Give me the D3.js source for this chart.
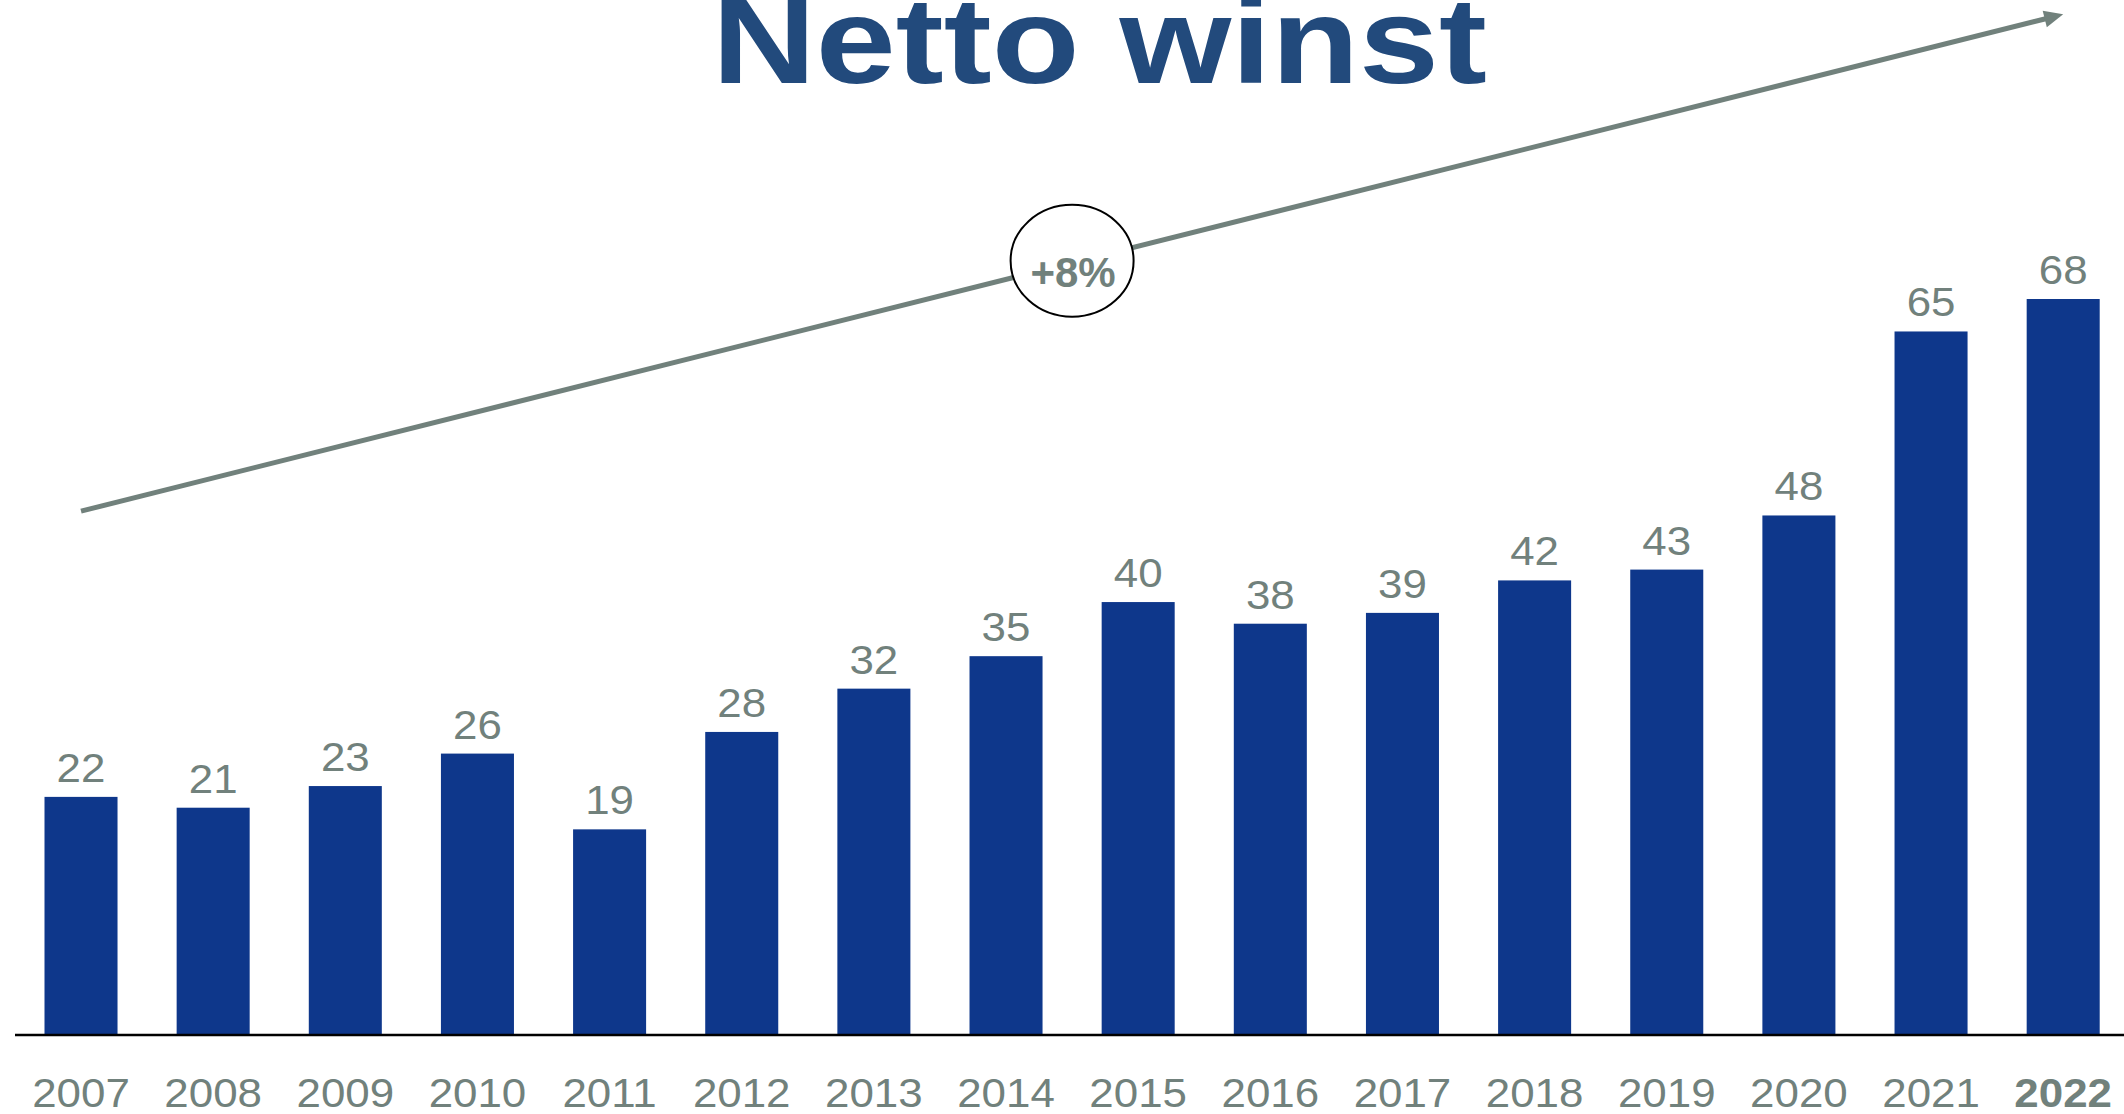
<!DOCTYPE html>
<html>
<head>
<meta charset="utf-8">
<script src="https://cdn.jsdelivr.net/npm/d3@7"></script>
<style>
  html, body { margin: 0; padding: 0; background: #ffffff; }
  svg { display: block; }
  text { font-family: "Liberation Sans", Arial, sans-serif; }
</style>
</head>
<body>
<script>
// Net profit per year
const years = ["2007","2008","2009","2010","2011","2012","2013","2014","2015","2016","2017","2018","2019","2020","2021","2022"];
const profit = [22, 21, 23, 26, 19, 28, 32, 35, 40, 38, 39, 42, 43, 48, 65, 68];
const highlightYear = "2022";

// Trend arrow annotation, in value units at the first and last year
const trendFrom = 48.4;
const trendTo = 94.3;
const trendLabel = "+8%";
const title = "Netto winst";

const W = 2124, H = 1114;
const baseY = 1035;
const widen = 1.07; // the lettering is drawn slightly wide

const colors = {
  bar: "#0e378b",
  text: "#71817c",
  title: "#224a7c",
  axis: "#000000"
};

const svg = d3.select("body").append("svg")
  .attr("width", W).attr("height", H)
  .attr("viewBox", `0 0 ${W} ${H}`);

svg.append("rect").attr("width", W).attr("height", H).attr("fill", "#fff");

const x = d3.scaleBand()
  .domain(years)
  .range([44.5, 2099.7])
  .paddingInner(0.4474)
  .paddingOuter(0);

const y = d3.scaleLinear()
  .domain([0, 68])
  .range([baseY, 299]);

const data = years.map((yr, i) => ({ year: yr, value: profit[i] }));

function stretch(sel) {
  sel.each(function () {
    const len = this.getComputedTextLength();
    d3.select(this)
      .attr("textLength", len * widen)
      .attr("lengthAdjust", "spacingAndGlyphs");
  });
}

// Title
svg.append("text")
  .attr("x", 712)
  .attr("y", 83)
  .attr("font-size", 122)
  .attr("font-weight", "bold")
  .attr("fill", colors.title)
  .attr("textLength", 775)
  .attr("lengthAdjust", "spacingAndGlyphs")
  .text(title);

// Bars
svg.append("g").selectAll("rect")
  .data(data)
  .join("rect")
  .attr("x", d => x(d.year))
  .attr("y", d => y(d.value))
  .attr("width", x.bandwidth())
  .attr("height", d => baseY - y(d.value))
  .attr("fill", colors.bar);

// Value labels
svg.append("g").selectAll("text")
  .data(data)
  .join("text")
  .attr("x", d => x(d.year) + x.bandwidth() / 2)
  .attr("y", d => y(d.value) - 15)
  .attr("text-anchor", "middle")
  .attr("font-size", 41)
  .attr("fill", colors.text)
  .text(d => d.value)
  .call(stretch);

// Baseline
svg.append("line")
  .attr("x1", 15).attr("x2", W)
  .attr("y1", baseY).attr("y2", baseY)
  .attr("stroke", colors.axis)
  .attr("stroke-width", 2.5);

// Year labels
svg.append("g").selectAll("text")
  .data(years)
  .join("text")
  .attr("x", d => x(d) + x.bandwidth() / 2)
  .attr("y", 1107)
  .attr("text-anchor", "middle")
  .attr("font-size", 41)
  .attr("font-weight", d => d === highlightYear ? "bold" : "normal")
  .attr("fill", colors.text)
  .text(d => d)
  .call(stretch);

// Trend arrow
const cx0 = x(years[0]) + x.bandwidth() / 2;
const cx1 = x(years[years.length - 1]) + x.bandwidth() / 2;
const p0 = [cx0, y(trendFrom)];
const p1 = [cx1, y(trendTo)];
const ang = Math.atan2(p1[1] - p0[1], p1[0] - p0[0]);
const headLen = 19, headHalf = 8.5;
const baseX = p1[0] - headLen * Math.cos(ang);
const baseYh = p1[1] - headLen * Math.sin(ang);

svg.append("line")
  .attr("x1", p0[0]).attr("y1", p0[1])
  .attr("x2", baseX + 2 * Math.cos(ang)).attr("y2", baseYh + 2 * Math.sin(ang))
  .attr("stroke", colors.text)
  .attr("stroke-width", 5);

svg.append("path")
  .attr("d", d3.line()([
    p1,
    [baseX - headHalf * Math.sin(ang), baseYh + headHalf * Math.cos(ang)],
    [baseX + headHalf * Math.sin(ang), baseYh - headHalf * Math.cos(ang)]
  ]) + "Z")
  .attr("fill", colors.text);

// Growth bubble at the middle of the trend
const mx = (p0[0] + p1[0]) / 2;
const my = (p0[1] + p1[1]) / 2 - 2;
svg.append("ellipse")
  .attr("cx", mx).attr("cy", my)
  .attr("rx", 61.5).attr("ry", 56)
  .attr("fill", "#fff")
  .attr("stroke", "#000")
  .attr("stroke-width", 2);

svg.append("text")
  .attr("x", mx + 1)
  .attr("y", my + 26)
  .attr("text-anchor", "middle")
  .attr("font-size", 42)
  .attr("font-weight", "bold")
  .attr("fill", colors.text)
  .text(trendLabel);
</script>
</body>
</html>
